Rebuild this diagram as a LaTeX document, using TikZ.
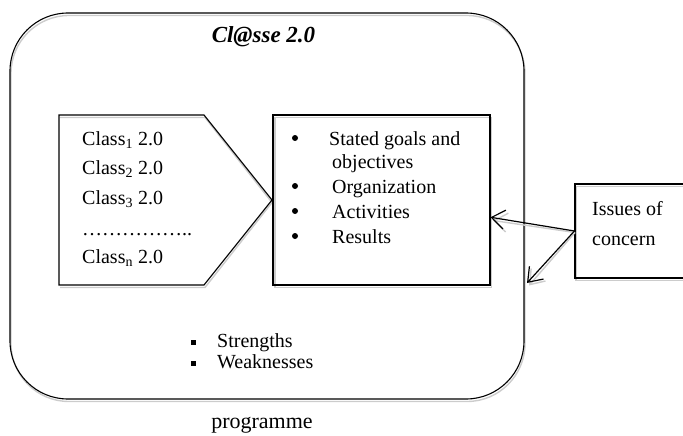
\documentclass[tikz,border=0pt]{standalone}
\usepackage{fontspec}
\setmainfont{Liberation Serif}
\usetikzlibrary{arrows.meta,calc}
\begin{document}
\begin{tikzpicture}[x=1pt,y=-1pt,
  box/.style={draw,line width=1.1pt,inner sep=0pt},
  shade/.style={draw=black!20,line width=1.4pt},
  txt/.style={anchor=base west,inner sep=0pt,font=\fontsize{20}{24}\selectfont},
  conn/.style={line width=1.2pt,-{Straight Barb[length=13pt,width=19pt,line width=1.2pt]}},
  shadeconn/.style={shade,-{Straight Barb[length=13pt,width=19pt,line width=1.4pt]}},
]
\clip (0,0) rectangle (683,436);

% outer frame
\draw[shade,rounded corners=58pt] (11,15.5) rectangle (525,401.5);
\node[box,rounded corners=58pt,minimum width=514pt,minimum height=386pt] (frame) at (267,206) {};
\node[anchor=base,inner sep=0pt,font=\fontsize{23}{27}\selectfont\bfseries\itshape] (title) at (263.5,43) {Cl@sse 2.0};

% left pentagon box
\coordinate (L1) at (59,115);
\coordinate (L2) at (204,115);
\coordinate (L3) at (272,200);
\coordinate (L4) at (204,285);
\coordinate (L5) at (59,285);
\draw[shade] (60,117.5) -- (205,117.5) -- (272,202.5) -- (205,287.5) -- (60,287.5);
\draw[line width=1.1pt,line join=miter] (L1) -- (L2) -- (L3) -- (L4) -- (L5) -- cycle;
\node[txt] (c1) at (82,145) {Class\textsubscript{1} 2.0};
\node[txt] (c2) at (82,174) {Class\textsubscript{2} 2.0};
\node[txt] (c3) at (82,204) {Class\textsubscript{3} 2.0};
\node[txt] (cd) at (82,235) {……………..};
\node[txt] (cn) at (82,263) {Class\textsubscript{n} 2.0};

% right box
\draw[shade] (275,117.5) rectangle (491.5,287.5);
\node[box,minimum width=217pt,minimum height=170pt] (goals) at (381.5,200) {};
\foreach \yy in {138,186,211,236} \fill (295,\yy) circle (3);
\node[txt] (g1) at (329,145) {Stated goals and};
\node[txt] (g2) at (332,168) {objectives};
\node[txt] (g3) at (332,193) {Organization};
\node[txt] (g4) at (332,218) {Activities};
\node[txt] (g5) at (332,243) {Results};

% strengths / weaknesses
\fill (190.5,340) rectangle (195.5,345);
\fill (190.5,360.5) rectangle (195.5,365.5);
\node[txt] (s1) at (217,347) {Strengths};
\node[txt] (s2) at (217,368) {Weaknesses};

% issues box
\draw[shade] (576,186.5) rectangle (701,280.5);
\node[box,minimum width=125pt,minimum height=94pt] (issues) at (637.5,231) {};
\node[txt] (i1) at (592,215) {Issues of};
\node[txt] (i2) at (592,245) {concern};

% connectors
\coordinate (fr) at (527,283);
\draw[shadeconn] (575,232.5) -- (493,220.5);
\draw[shadeconn] (575,232.5) -- (529,285.5);
\draw[conn] (issues.west) -- (goals.-9.4);
\draw[conn] (issues.west) -- (fr);

\node[anchor=base,inner sep=0pt,font=\fontsize{22}{26}\selectfont] (prog) at (262,428) {programme};
\end{tikzpicture}
\end{document}
